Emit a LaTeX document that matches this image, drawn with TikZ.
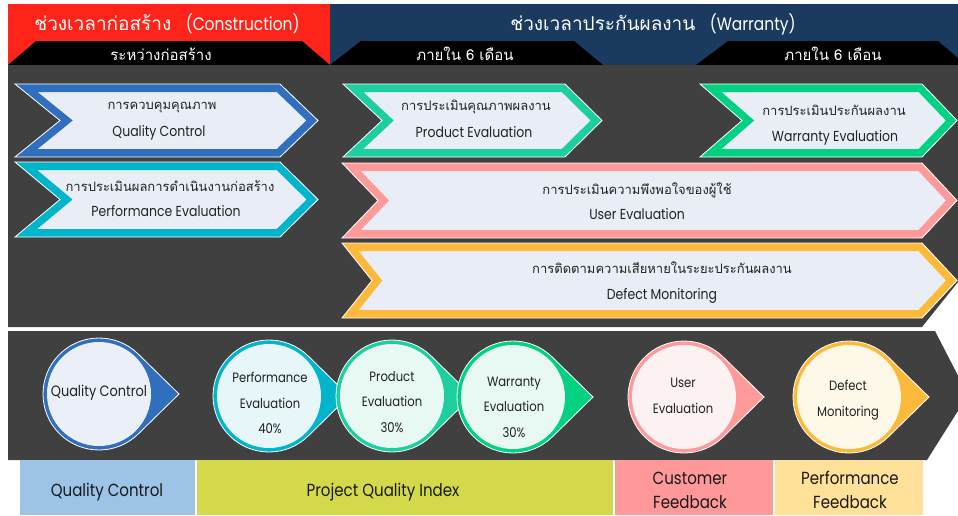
\documentclass[tikz,border=0pt]{standalone}
\usepackage{fontspec}
\setmainfont{Poppins}[FakeStretch=0.86]
\newfontfamily\thaifont[Script=Thai]{Loma}
\usetikzlibrary{calc}

\definecolor{hdrred}{HTML}{FF2419}
\definecolor{hdrblue}{HTML}{1B3A5F}
\definecolor{panel}{HTML}{404040}
\definecolor{pale}{HTML}{E9EEF6}
\definecolor{inktext}{HTML}{222222}
% band colours
\definecolor{cQC}{HTML}{2F6FBE}
\definecolor{cPE}{HTML}{00B4CB}
\definecolor{cPR}{HTML}{1DCF9F}
\definecolor{cWE}{HTML}{00D183}
\definecolor{cUE}{HTML}{FF9A9A}
\definecolor{cDM}{HTML}{FDBA3A}
% circle fills
\definecolor{fQC}{HTML}{EBF0F8}
\definecolor{fPE}{HTML}{E6F6F9}
\definecolor{fPR}{HTML}{E8F8F3}
\definecolor{fWE}{HTML}{E8F8F2}
\definecolor{fUE}{HTML}{FDF2F2}
\definecolor{fDM}{HTML}{FEF8E8}
% footer boxes
\definecolor{bQC}{HTML}{9DC3E6}
\definecolor{bPQ}{HTML}{D4D94B}
\definecolor{bCF}{HTML}{FF9999}
\definecolor{bPF}{HTML}{FFE19A}

% chevron: colour, left x, notch x, shoulder x, tip x, top y, bottom y
\newcommand\chev[7]{%
  \begin{scope}
    \clip (#2,#6) -- (#4,#6) -- (#5,{(#6+#7)/2}) -- (#4,#7) -- (#2,#7) -- (#3,{(#6+#7)/2}) -- cycle;
    \fill[pale] (#2,#6) rectangle (#5,#7);
    \draw[#1, line width=16pt, line join=miter, miter limit=10]
      (#2,#6) -- (#4,#6) -- (#5,{(#6+#7)/2}) -- (#4,#7) -- (#2,#7) -- (#3,{(#6+#7)/2}) -- cycle;
  \end{scope}
  \draw[white, line width=0.8pt, line join=miter]
    (#2,#6) -- (#4,#6) -- (#5,{(#6+#7)/2}) -- (#4,#7) -- (#2,#7) -- (#3,{(#6+#7)/2}) -- cycle;
}

% teardrop marker: colour, inner fill, centre x, centre y
\newcommand\drop[4]{%
  \fill[#1, draw=white, line width=0.8pt]
    ($(#3,#4)+(45.6:56pt)$) arc[start angle=45.6, end angle=314.4, radius=56pt]
    -- ($(#3,#4)+(80pt,0pt)$) -- cycle;
  \fill[#2] (#3,#4) circle[radius=52pt];
}

\tikzset{
  hdr/.style={text=white, font=\fontsize{18}{20}\selectfont, inner sep=0pt},
  subhdr/.style={text=white, font=\thaifont\fontsize{15}{17}\selectfont, inner sep=0pt},
  thline/.style={text=inktext, font=\thaifont\fontsize{13}{15}\selectfont, inner sep=0pt},
  enline/.style={text=inktext, font=\fontsize{14.5}{16}\selectfont, inner sep=0pt},
  circtext/.style={text=inktext, align=center, font=\fontsize{13.5}{25.5}\selectfont, inner sep=0pt},
  foot/.style={text=black!90, align=center, font=\fontsize{17.5}{24}\selectfont, inner sep=0pt},
}

\begin{document}
\begin{tikzpicture}[x=1pt, y=-1pt]
\useasboundingbox (0,0) rectangle (958,515);
\clip (0,0) rectangle (958,515);

% ---- header bands ----
\fill[hdrred] (8,4) rectangle (330,65);
\fill[hdrblue] (330,4) rectangle (958,65);
\fill[black] (8,65) -- (36,41) -- (302,41) -- (330,65) -- cycle;
\fill[black] (330,65) -- (361,41) -- (574,41) -- (603,65) -- cycle;
\fill[black] (696,65) -- (728,41) -- (938,41) -- (966,65) -- cycle;

\node[hdr] (conTitle) at (167,24) {{\thaifont\fontsize{19}{20}\selectfont ช่วงเวลาก่อสร้าง}\hspace{0.8em}(Construction)};
\node[hdr] (warTitle) at (653,24) {{\thaifont\fontsize{19}{20}\selectfont ช่วงเวลาประกันผลงาน}\hspace{0.8em}(Warranty)};
\node[subhdr] (conSub) at (161,54) {ระหว่างก่อสร้าง};
\node[subhdr] (warSubA) at (465,54) {ภายใน 6 เดือน};
\node[subhdr] (warSubB) at (833,54) {ภายใน 6 เดือน};

% ---- dark panels ----
\fill[panel] (8,65) -- (958,65) -- (958,282) -- (922,327) -- (8,327) -- cycle;
\fill[panel] (8,331) -- (935,331) -- (968,395) -- (927,460) -- (8,460) -- cycle;

% ---- chevrons ----
\chev{cQC}{15}{60}{280}{318}{84}{157}
\chev{cPE}{15}{60}{280}{318}{162}{237}
\chev{cPR}{343}{382}{565}{602}{84}{157}
\chev{cWE}{700}{742}{922}{957}{84}{157}
\chev{cUE}{342}{378}{922}{957}{163}{238}
\chev{cDM}{342}{372}{922}{957}{243}{318}

\node[thline] (qcTh) at (162,108) {การควบคุมคุณภาพ};
\node[enline] (qcEn) at (159,133) {Quality Control};
\node[thline] (peTh) at (170,186) {การประเมินผลการดำเนินงานก่อสร้าง};
\node[enline] (peEn) at (166,211) {Performance Evaluation};
\node[thline] (prTh) at (476,107) {การประเมินคุณภาพผลงาน};
\node[enline] (prEn) at (474,132) {Product Evaluation};
\node[thline] (weTh) at (834,110) {การประเมินประกันผลงาน};
\node[enline] (weEn) at (835,138) {Warranty Evaluation};
\node[thline] (ueTh) at (637,190) {การประเมินความพึงพอใจของผู้ใช้};
\node[enline] (ueEn) at (637,214) {User Evaluation};
\node[thline] (dmTh) at (662,268) {การติดตามความเสียหายในระยะประกันผลงาน};
\node[enline] (dmEn) at (662,296) {Defect Monitoring};

% ---- teardrop markers ----
\drop{cQC}{fQC}{99}{394}
\drop{cPE}{fPE}{269}{396}
\drop{cPR}{fPR}{392}{396}
\drop{cWE}{fWE}{513}{397}
\drop{cUE}{fUE}{684}{397}
\drop{cDM}{fDM}{849}{397}

\node[circtext, font=\fontsize{15}{25.5}\selectfont] (qcC) at (99,393) {Quality Control};
\node[circtext] (peC) at (270,403) {Performance\\Evaluation\\40\%};
\node[circtext] (prC) at (392,402) {Product\\Evaluation\\30\%};
\node[circtext] (weC) at (514,407) {Warranty\\Evaluation\\30\%};
\node[circtext] (ueC) at (683,396) {User\\Evaluation};
\node[circtext] (dmC) at (848,400) {Defect\\Monitoring};

% ---- footer boxes ----
\fill[bQC] (20,460) rectangle (195,515);
\fill[bPQ] (197,460) rectangle (613,515);
\fill[bCF] (615,460) rectangle (773,515);
\fill[bPF] (775,460) rectangle (923,515);

\node[foot] (fqc) at (107,492) {Quality Control};
\node[foot] (fpq) at (383,492) {Project Quality Index};
\node[foot] (fcf) at (690,490) {Customer\\Feedback};
\node[foot] (fpf) at (850,490) {Performance\\Feedback};
\end{tikzpicture}
\end{document}
